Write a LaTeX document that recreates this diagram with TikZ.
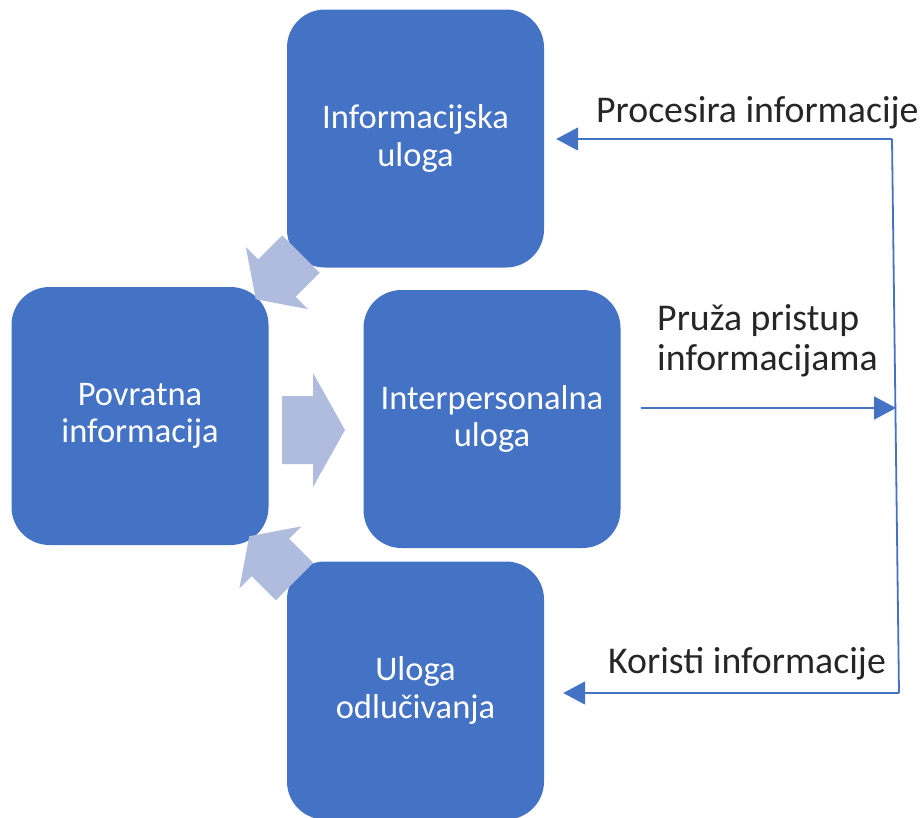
\documentclass[tikz,border=0pt]{standalone}
\usepackage{fontspec}
\setmainfont{Carlito}
\usetikzlibrary{arrows.meta}
\definecolor{boxblue}{HTML}{4472C4}
\definecolor{arrowlight}{RGB}{176,188,222}
\begin{document}
\begin{tikzpicture}[x=1pt,y=-1pt,
  box/.style={fill=boxblue, rounded corners=38pt, minimum width=257pt, minimum height=258pt,
    inner sep=0pt, text=white, align=center, font=\fontsize{34.5}{37.5}\selectfont},
  lbl/.style={inner sep=0pt, text=black!85, font=\fontsize{37.8}{40}\selectfont, align=left},
  conn/.style={draw=boxblue, line width=1.8pt},
  tipped/.style={-{Triangle[length=22pt,width=23pt]}},
  blockarrow/.style={fill=arrowlight}]
\useasboundingbox (0,0) rectangle (921,817);
\clip (0,0) rectangle (921,817);
% boxes
\node[box] (info)  at (415.5,138.5) {Informacijska\\uloga};
\node[box] (pov)   at (140,416)     {Povratna\\informacija};
\node[box] (inter) at (492,419)     {Interpersonalna\\uloga};
\node[box] (dec)   at (415.5,690.5) {Uloga\\odlučivanja};
% block arrows
\fill[blockarrow, shift={(282,430)}]
  (0,-34) -- (31,-34) -- (31,-57) -- (63,0) -- (31,57) -- (31,34) -- (0,34) -- cycle;
\fill[blockarrow, shift={(301,254)}, rotate=225]
  (0,-26.5) -- (34,-26.5) -- (34,-44) -- (64,0) -- (34,44) -- (34,26.5) -- (0,26.5) -- cycle;
\fill[blockarrow, shift={(294.5,581.5)}, rotate=135]
  (0,-26.5) -- (34,-26.5) -- (34,-44) -- (64,0) -- (34,44) -- (34,26.5) -- (0,26.5) -- cycle;
% connectors
\coordinate (tr) at (892,139);
\coordinate (mr) at (896,408);
\coordinate (br) at (899,693);
\draw[conn] (tr) -- (br);
\draw[conn, tipped, shorten >=12pt] (tr) -- (info.east |- tr);
\draw[conn, tipped, shorten <=20pt] (inter.east |- mr) -- (mr);
\draw[conn, tipped, shorten >=19pt] (br) -- (dec.east |- br);
% labels
\node[lbl, anchor=base west] (lproc) at (596,122) {Procesira informacije};
\node[lbl, anchor=west] (lpruza) at (657,341) {Pruža pristup\\informacijama};
\node[lbl, anchor=base west] (lkor) at (608,673) {Koristi informacije};
\end{tikzpicture}
\end{document}
